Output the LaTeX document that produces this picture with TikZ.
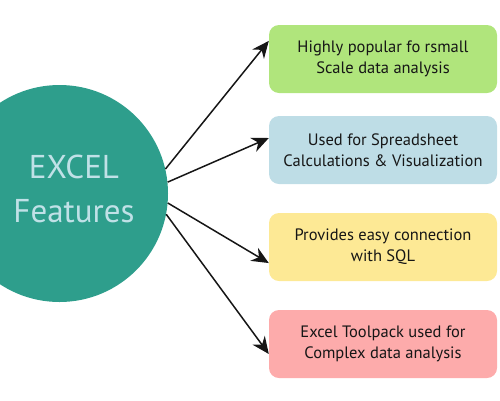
\documentclass[tikz,border=0pt]{standalone}
\usepackage{fontspec}
\setmainfont{PT Sans}
\usetikzlibrary{arrows.meta}
\definecolor{teal1}{RGB}{46,158,140}
\definecolor{ctext}{RGB}{192,225,231}
\definecolor{bgreen}{RGB}{176,229,124}
\definecolor{bblue}{RGB}{190,221,230}
\definecolor{byellow}{RGB}{253,233,149}
\definecolor{bpink}{RGB}{253,171,171}
\definecolor{tdark}{RGB}{22,22,22}
\tikzset{
  featbox/.style={rectangle, rounded corners=10pt, minimum width=228pt, minimum height=68pt,
    inner sep=0pt, align=center, text=tdark, font=\fontsize{16.5}{21}\selectfont},
  conn/.style={line width=1.5pt, draw=tdark, -{Stealth[length=17pt,width=15pt]}}
}
\begin{document}
\begin{tikzpicture}[x=1pt,y=-1pt]
\useasboundingbox (0,0) rectangle (500,400);
\node[circle, fill=teal1, minimum size=217pt, inner sep=0pt] (c) at (59.5,193.5) {};
\node[text=ctext, align=center, font=\fontsize{33}{44}\selectfont] (ct) at (74,189) {EXCEL\\Features};
\node[featbox, fill=bgreen] (b1) at (383,59) {Highly popular fo rsmall\\Scale data analysis};
\node[featbox, fill=bblue] (b2) at (383,150) {Used for Spreadsheet\\Calculations \& Visualization};
\node[featbox, fill=byellow] (b3) at (383,247) {Provides easy connection\\with SQL};
\node[featbox, fill=bpink] (b4) at (383,344) {Excel Toolpack used for\\Complex data analysis};
\draw[conn] (c.13.6) -- (b1.171);
\draw[conn] (c.6) -- (b2.174);
\draw[conn] (c.-5) -- (b3.188);
\draw[conn] (c.-11.4) -- (b4.185);
\end{tikzpicture}
\end{document}
